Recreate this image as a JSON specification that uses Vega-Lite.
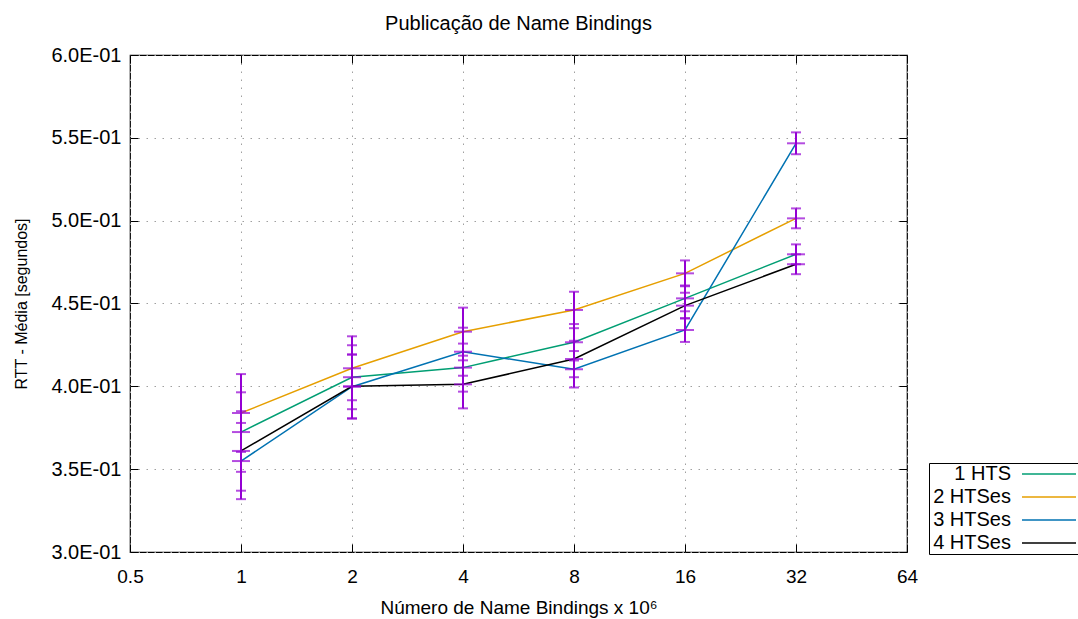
{
  "$schema": "https://vega.github.io/schema/vega-lite/v6.json",
  "autosize": "none",
  "width": 777,
  "height": 497,
  "padding": {"left": 130, "top": 55, "right": 171, "bottom": 67},
  "background": "white",
  "config": {
    "font": "Liberation Sans",
    "view": {"stroke": "black", "strokeWidth": 1.2},
    "axis": {"labelColor": "black", "titleColor": "black", "tickColor": "black", "titleFontWeight": "normal", "labelOverlap": false, "labelFlush": false, "labelBound": false, "domain": false}
  },
  "title": {"text": "Publicação de Name Bindings", "fontSize": 20, "fontWeight": "normal", "color": "black", "offset": 11, "anchor": "middle"},
  "data": {
    "values": [
      {"series": "1 HTS", "x": 1, "y": 0.3724, "lo": 0.3484, "hi": 0.3964},
      {"series": "2 HTSes", "x": 1, "y": 0.3839, "lo": 0.3604, "hi": 0.4074},
      {"series": "3 HTSes", "x": 1, "y": 0.3549, "lo": 0.3319, "hi": 0.3779},
      {"series": "4 HTSes", "x": 1, "y": 0.3610, "lo": 0.3370, "hi": 0.3850},
      {"series": "1 HTS", "x": 2, "y": 0.4055, "lo": 0.3862, "hi": 0.4248},
      {"series": "2 HTSes", "x": 2, "y": 0.4109, "lo": 0.3916, "hi": 0.4302},
      {"series": "3 HTSes", "x": 2, "y": 0.3998, "lo": 0.3805, "hi": 0.4191},
      {"series": "4 HTSes", "x": 2, "y": 0.4000, "lo": 0.3807, "hi": 0.4193},
      {"series": "1 HTS", "x": 4, "y": 0.4113, "lo": 0.3968, "hi": 0.4258},
      {"series": "2 HTSes", "x": 4, "y": 0.4330, "lo": 0.4185, "hi": 0.4475},
      {"series": "3 HTSes", "x": 4, "y": 0.4209, "lo": 0.4064, "hi": 0.4354},
      {"series": "4 HTSes", "x": 4, "y": 0.4012, "lo": 0.3867, "hi": 0.4157},
      {"series": "1 HTS", "x": 8, "y": 0.4266, "lo": 0.4156, "hi": 0.4376},
      {"series": "2 HTSes", "x": 8, "y": 0.4461, "lo": 0.4351, "hi": 0.4571},
      {"series": "3 HTSes", "x": 8, "y": 0.4103, "lo": 0.3993, "hi": 0.4213},
      {"series": "4 HTSes", "x": 8, "y": 0.4165, "lo": 0.4055, "hi": 0.4275},
      {"series": "1 HTS", "x": 16, "y": 0.4531, "lo": 0.4453, "hi": 0.4609},
      {"series": "2 HTSes", "x": 16, "y": 0.4682, "lo": 0.4604, "hi": 0.4760},
      {"series": "3 HTSes", "x": 16, "y": 0.4340, "lo": 0.4268, "hi": 0.4412},
      {"series": "4 HTSes", "x": 16, "y": 0.4487, "lo": 0.4409, "hi": 0.4565},
      {"series": "1 HTS", "x": 32, "y": 0.4797, "lo": 0.4737, "hi": 0.4857},
      {"series": "2 HTSes", "x": 32, "y": 0.5014, "lo": 0.4954, "hi": 0.5074},
      {"series": "3 HTSes", "x": 32, "y": 0.5467, "lo": 0.5401, "hi": 0.5533},
      {"series": "4 HTSes", "x": 32, "y": 0.4737, "lo": 0.4677, "hi": 0.4797}
    ]
  },
  "layer": [
    {
      "mark": {"type": "line", "strokeWidth": 1.5, "clip": true},
      "encoding": {
        "x": {
          "field": "x", "type": "quantitative",
          "scale": {"type": "log", "base": 2, "domain": [0.5, 64], "nice": false},
          "axis": {"orient": "bottom", "values": [0.5, 1, 2, 4, 8, 16, 32, 64], "grid": true, "gridColor": "#a0a0a0", "gridDash": [1.5, 6.5], "gridWidth": 1, "tickSize": -8, "labelPadding": 23, "labelFontSize": 19, "title": "Número de Name Bindings x 10⁶", "titleFontSize": 19, "titlePadding": 12}
        },
        "y": {
          "field": "y", "type": "quantitative",
          "scale": {"domain": [0.3, 0.6], "nice": false, "zero": false},
          "axis": {"orient": "left", "values": [0.3, 0.35, 0.4, 0.45, 0.5, 0.55, 0.6], "labelExpr": "format(datum.value*10, '.1f') + 'E-01'", "grid": true, "gridColor": "#a0a0a0", "gridDash": [1.5, 6.5], "gridWidth": 1, "tickSize": -8, "labelPadding": 17, "labelFontSize": 20, "title": "RTT - Média [segundos]", "titleFontSize": 16, "titlePadding": 21}
        },
        "color": {
          "field": "series", "type": "nominal",
          "scale": {"domain": ["1 HTS", "2 HTSes", "3 HTSes", "4 HTSes"], "range": ["#009e73", "#e69f00", "#0072b2", "#000000"]},
          "legend": {"orient": "none", "legendX": 799, "legendY": 408, "title": null, "strokeColor": "black", "padding": 1, "symbolType": "M-3,0H3", "symbolSize": 324, "symbolStrokeWidth": 1.5, "rowPadding": 3, "labelFontSize": 20, "labelColor": "black", "labelAlign": "right", "labelOffset": -48, "symbolOffset": 109, "labelLimit": 200}
        }
      }
    },
    {
      "mark": {"type": "rule", "color": "#9400d3", "strokeWidth": 2},
      "encoding": {
        "x": {"field": "x", "type": "quantitative", "axis": {"orient": "top", "values": [0.5, 1, 2, 4, 8, 16, 32, 64], "labels": false, "grid": false, "tickSize": -8, "title": null}},
        "y": {"field": "lo", "type": "quantitative", "axis": {"orient": "right", "values": [0.3, 0.35, 0.4, 0.45, 0.5, 0.55, 0.6], "labels": false, "grid": false, "tickSize": -8, "title": null}},
        "y2": {"field": "hi"}
      }
    },
    {
      "mark": {"type": "tick", "orient": "horizontal", "color": "#9400d3", "size": 10, "thickness": 2},
      "encoding": {
        "x": {"field": "x", "type": "quantitative", "axis": null},
        "y": {"field": "lo", "type": "quantitative", "axis": null}
      }
    },
    {
      "mark": {"type": "tick", "orient": "horizontal", "color": "#9400d3", "size": 10, "thickness": 2},
      "encoding": {
        "x": {"field": "x", "type": "quantitative", "axis": null},
        "y": {"field": "hi", "type": "quantitative", "axis": null}
      }
    },
    {
      "mark": {"type": "tick", "orient": "horizontal", "color": "#9400d3", "size": 18, "thickness": 2},
      "encoding": {
        "x": {"field": "x", "type": "quantitative", "axis": null},
        "y": {"field": "y", "type": "quantitative", "axis": null}
      }
    }
  ]
}
